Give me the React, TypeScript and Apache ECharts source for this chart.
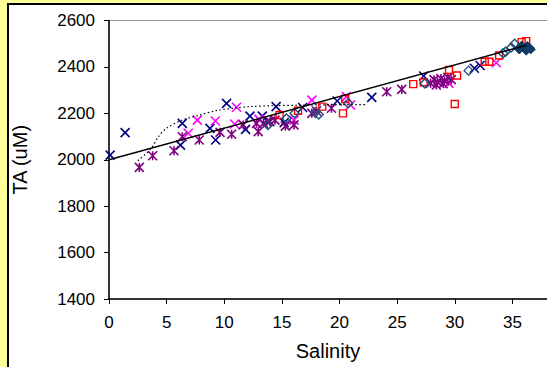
import React, { useEffect, useRef } from "react";
import * as echarts from "echarts";

const navyCross: number[][] = [
  [0.1, 2020], [1.4, 2117], [6.2, 2063], [6.36, 2157], [8.76, 2135], [9.25, 2085],
  [10.2, 2243], [11.85, 2131], [12.23, 2188], [13.3, 2188], [13.8, 2165], [14.5, 2229],
  [15.2, 2160], [16.8, 2225], [19.8, 2253], [22.8, 2269], [27.3, 2361], [31.7, 2394],
  [32.2, 2406],
];
const magentaCross: number[][] = [
  [6.88, 2114], [7.66, 2171], [9.22, 2167], [10.9, 2154], [11.07, 2226], [13.0, 2175],
  [16.05, 2171], [17.6, 2257], [20.6, 2272], [20.96, 2236], [29.5, 2329], [33.6, 2418],
];
const purpleStar: number[][] = [
  [2.63, 1967], [3.79, 2017], [5.64, 2039], [6.36, 2099], [7.83, 2085], [9.63, 2118],
  [10.64, 2110], [11.65, 2150], [12.8, 2157], [12.95, 2121], [13.4, 2157], [13.96, 2164],
  [14.4, 2171], [15.3, 2145], [16.05, 2150], [17.6, 2200], [18.0, 2210], [19.3, 2222],
  [24.1, 2293], [25.4, 2303], [27.9, 2330], [28.2, 2345], [28.4, 2322], [28.5, 2335],
  [28.8, 2350], [29.0, 2328], [29.1, 2340], [29.4, 2355], [29.7, 2345],
];
const redSquare: number[][] = [
  [14.8, 2193], [16.4, 2211], [18.5, 2229], [20.3, 2200], [20.5, 2262], [26.4, 2326],
  [27.3, 2334], [29.5, 2387], [30.2, 2363], [30.0, 2240], [32.6, 2422], [33.0, 2422],
  [33.85, 2449], [35.8, 2507], [36.2, 2511],
];
const openDiamond: number[][] = [
  [13.8, 2150], [15.4, 2178], [16.1, 2200], [17.9, 2205], [18.2, 2195], [20.75, 2243],
  [27.4, 2329], [31.2, 2384], [34.2, 2459], [34.4, 2465], [34.9, 2484], [35.2, 2500],
];
const filledDiamond: number[][] = [
  [35.6, 2475], [35.9, 2485], [36.1, 2478], [36.3, 2490], [36.5, 2482], [36.2, 2470],
  [35.8, 2492], [36.6, 2476],
];
const linearFit: number[][] = [[0, 2000], [36.2, 2493]];
const curveFit: number[][] = [
  [2.5, 1996], [3.6, 2045], [4.3, 2100], [5.0, 2136], [6.4, 2172], [7.9, 2193],
  [9.3, 2212], [10.8, 2222], [12.2, 2229], [14.3, 2233], [16.6, 2235], [19.5, 2237],
  [22.4, 2238],
];

const FONT = "'Liberation Sans', Arial, sans-serif";
const CROSS = "path://M0,0L10,10M10,0L0,10";
const STAR = "path://M0,0L10,10M10,0L0,10M5,0L5,10";

export default function App() {
  const ref = useRef<HTMLDivElement>(null);
  useEffect(() => {
    if (!ref.current) return;
    const chart = echarts.init(ref.current, undefined, { renderer: "svg" });
    const markerSeries = (data: number[][], symbol: string, color: string, size: number, fill = "rgba(0,0,0,0)", bw = 1.6) => ({
      type: "scatter",
      data,
      symbol,
      symbolSize: size,
      itemStyle: { color: fill, borderColor: color, borderWidth: bw, opacity: 1 },
      emphasis: { disabled: true },
    });
    chart.setOption({
      animation: false,
      graphic: [
        { type: "rect", z: -20, silent: true, shape: { x: 0, y: 0, width: 620, height: 400 }, style: { fill: "#FFFF99" } },
        { type: "rect", z: -19, silent: true, shape: { x: 8, y: 4, width: 700, height: 500 }, style: { fill: "#ffffff", stroke: "#000000", lineWidth: 2 } },
        {
          type: "text", z: 10, x: 328, y: 351,
          style: { text: "Salinity", font: `20px ${FONT}`, fill: "#000", textAlign: "center", textVerticalAlign: "middle" },
        },
      ],
      grid: { left: 109, top: 20.5, width: 461, height: 278.5, show: true, borderColor: "#999999", borderWidth: 1, backgroundColor: "rgba(0,0,0,0)" },
      xAxis: {
        type: "value", min: 0, max: 40, interval: 5,
        axisLine: { show: true, onZero: false, lineStyle: { color: "#000", width: 1.5 } },
        axisTick: { show: true, inside: false, length: 5, lineStyle: { color: "#000", width: 1 } },
        axisLabel: {
          fontFamily: FONT, fontSize: 17, color: "#000", margin: 15,
          showMaxLabel: false,
          formatter: (v: number) => (v >= 40 ? "" : String(v)),
        },
        splitLine: { show: false },
      },
      yAxis: {
        type: "value", min: 1400, max: 2600, interval: 200,
        name: "TA (uM)", nameLocation: "middle", nameGap: 79, nameRotate: 90,
        nameTextStyle: { fontFamily: FONT, fontSize: 20, color: "#000" },
        axisLine: { show: true, onZero: false, lineStyle: { color: "#000", width: 1.5 } },
        axisTick: { show: true, inside: false, length: 5, lineStyle: { color: "#000", width: 1 } },
        axisLabel: { fontFamily: FONT, fontSize: 17, color: "#000", margin: 14, formatter: (v: number) => String(v) },
        splitLine: { show: false },
      },
      series: [
        markerSeries(navyCross, CROSS, "#000080", 9),
        markerSeries(magentaCross, CROSS, "#FF00FF", 9),
        markerSeries(purpleStar, STAR, "#800080", 9),
        markerSeries(redSquare, "rect", "#FF0000", 7, "rgba(0,0,0,0)", 1.4),
        markerSeries(openDiamond, "diamond", "#1F4E79", 9, "rgba(0,0,0,0)", 1.4),
        markerSeries(filledDiamond, "diamond", "#0F3B66", 9, "#0F3B66", 1),
        {
          type: "line", data: curveFit, smooth: 0.3, showSymbol: false, symbol: "none",
          lineStyle: { color: "#000", width: 1.2, type: [1.5, 2.5] },
        },
        {
          type: "line", data: linearFit, showSymbol: false, symbol: "none",
          lineStyle: { color: "#000", width: 1.5 },
        },
      ],
    });
    return () => chart.dispose();
  }, []);
  return (
    <div style={{ position: "absolute", left: 0, top: 0, width: 547, height: 367, overflow: "hidden" }}>
      <div ref={ref} style={{ width: 600, height: 367 }} />
    </div>
  );
}
